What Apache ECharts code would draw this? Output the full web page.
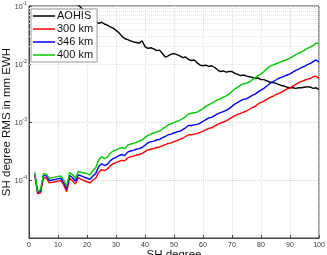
<!DOCTYPE html>
<html>
<head>
<meta charset="utf-8">
<script src="https://cdn.jsdelivr.net/npm/echarts@6/dist/echarts.min.js"></script>
<style>
  html, body { margin: 0; padding: 0; background: #fff; }
  #chart { width: 327px; height: 255px; }
</style>
</head>
<body>
<div id="chart"></div>
<script>
// SH degree (x)
const degrees = [2, 3, 4, 5, 6, 7, 8, 9, 10, 11, 12, 13, 14, 15, 16, 17, 18, 19, 20, 21,
  22, 23, 24, 25, 26, 27, 28, 29, 30, 31, 32, 33, 34, 35, 36, 37, 38, 39, 40, 41,
  42, 43, 44, 45, 46, 47, 48, 49, 50, 51, 52, 53, 54, 55, 56, 57, 58, 59, 60, 61,
  62, 63, 64, 65, 66, 67, 68, 69, 70, 71, 72, 73, 74, 75, 76, 77, 78, 79, 80, 81,
  82, 83, 84, 85, 86, 87, 88, 89, 90, 91, 92, 93, 94, 95, 96, 97, 98, 99, 100]

// degree RMS, read as log10(mm EWH) off the log axis
const aohisLog = [-0.45, -0.50, -0.55, -0.58, -0.62, -0.66, -0.70, -0.72, -0.76, -0.79,
  -0.82, -0.85, -0.88, -0.92, -0.95, -0.98, -1.03, -1.10, -1.16, -1.20,
  -1.24, -1.26, -1.30, -1.28, -1.31, -1.33, -1.36, -1.38, -1.42, -1.46,
  -1.52, -1.56, -1.58, -1.60, -1.62, -1.63, -1.64, -1.60, -1.70, -1.73,
  -1.72, -1.74, -1.77, -1.76, -1.82, -1.88, -1.86, -1.83, -1.82, -1.84,
  -1.86, -1.89, -1.88, -1.92, -1.94, -1.93, -1.98, -2.02, -2.03, -2.02,
  -2.04, -2.03, -2.06, -2.10, -2.13, -2.12, -2.14, -2.13, -2.13, -2.16,
  -2.18, -2.20, -2.19, -2.21, -2.22, -2.23, -2.25, -2.24, -2.27, -2.27,
  -2.29, -2.31, -2.32, -2.33, -2.35, -2.37, -2.38, -2.40, -2.41, -2.41,
  -2.42, -2.41, -2.41, -2.40, -2.39, -2.40, -2.42, -2.41, -2.44]

const km300Log = [-3.92, -4.24, -4.22, -3.96, -3.97, -4.05, -4.04, -4.03, -4.02, -4.01,
  -4.09, -4.20, -3.97, -4.01, -4.07, -3.96, -3.99, -4.01, -4.03, -4.05,
  -4.00, -3.97, -3.87, -3.82, -3.84, -3.81, -3.76, -3.72, -3.70, -3.68,
  -3.66, -3.67, -3.62, -3.60, -3.59, -3.57, -3.56, -3.54, -3.51, -3.48,
  -3.47, -3.46, -3.44, -3.43, -3.41, -3.39, -3.37, -3.36, -3.34, -3.32,
  -3.30, -3.28, -3.25, -3.22, -3.22, -3.21, -3.20, -3.18, -3.16, -3.13,
  -3.11, -3.10, -3.07, -3.04, -3.02, -3.00, -2.98, -2.95, -2.92, -2.89,
  -2.87, -2.85, -2.83, -2.81, -2.78, -2.75, -2.73, -2.69, -2.66, -2.64,
  -2.61, -2.58, -2.56, -2.53, -2.51, -2.49, -2.46, -2.43, -2.41, -2.38,
  -2.35, -2.32, -2.30, -2.28, -2.26, -2.25, -2.22, -2.21, -2.25]

const km346Log = [-3.90, -4.22, -4.19, -3.92, -3.93, -4.01, -4.00, -3.99, -3.98, -3.97,
  -4.05, -4.15, -3.92, -3.96, -4.02, -3.91, -3.93, -3.95, -3.97, -3.99,
  -3.93, -3.89, -3.77, -3.72, -3.75, -3.73, -3.67, -3.63, -3.61, -3.58,
  -3.56, -3.58, -3.52, -3.50, -3.49, -3.47, -3.46, -3.44, -3.40, -3.36,
  -3.34, -3.33, -3.31, -3.30, -3.27, -3.25, -3.22, -3.21, -3.19, -3.17,
  -3.16, -3.13, -3.10, -3.06, -3.06, -3.05, -3.04, -3.02, -2.99, -2.96,
  -2.93, -2.92, -2.89, -2.86, -2.84, -2.82, -2.80, -2.77, -2.73, -2.69,
  -2.66, -2.63, -2.61, -2.60, -2.57, -2.54, -2.52, -2.48, -2.45, -2.42,
  -2.38, -2.34, -2.31, -2.28, -2.25, -2.23, -2.21, -2.19, -2.17, -2.14,
  -2.11, -2.09, -2.06, -2.04, -2.01, -1.99, -1.96, -1.93, -1.97]

const km400Log = [-3.87, -4.20, -4.16, -3.89, -3.90, -3.97, -3.96, -3.95, -3.94, -3.93,
  -4.00, -4.11, -3.87, -3.91, -3.97, -3.85, -3.87, -3.88, -3.89, -3.91,
  -3.84, -3.79, -3.66, -3.60, -3.63, -3.61, -3.54, -3.50, -3.48, -3.46,
  -3.44, -3.46, -3.40, -3.38, -3.37, -3.35, -3.33, -3.31, -3.27, -3.23,
  -3.21, -3.19, -3.17, -3.16, -3.12, -3.09, -3.05, -3.03, -3.01, -2.99,
  -2.97, -2.94, -2.91, -2.86, -2.85, -2.84, -2.83, -2.80, -2.77, -2.73,
  -2.70, -2.68, -2.65, -2.62, -2.60, -2.57, -2.55, -2.52, -2.47, -2.43,
  -2.40, -2.36, -2.34, -2.33, -2.31, -2.27, -2.24, -2.20, -2.17, -2.13,
  -2.08, -2.04, -2.02, -2.00, -1.98, -1.96, -1.94, -1.92, -1.90, -1.87,
  -1.84, -1.81, -1.79, -1.76, -1.73, -1.71, -1.68, -1.64, -1.65]

const seriesNames = ['AOHIS', '300 km', '346 km', '400 km']
const seriesColors = ['#000000', '#ff0000', '#0000ff', '#00cc00']
const seriesLogs = [aohisLog, km300Log, km346Log, km400Log]

// log-axis minor grid (2..9 per decade)
const minorGrid = []
for (let e = -5; e <= -2; e++) {
  for (let m = 2; m <= 9; m++) minorGrid.push(m * Math.pow(10, e))
}

const chart = echarts.init(document.getElementById('chart'), null, { renderer: 'canvas' })

const series = seriesNames.map((name, i) => ({
  name,
  type: 'line',
  symbol: 'none',
  clip: true,
  z: 2 + i,
  lineStyle: { color: seriesColors[i], width: 1.4 },
  itemStyle: { color: seriesColors[i] },
  data: degrees.map((d, k) => [d, Math.pow(10, seriesLogs[i][k])]),
}))

series[0].markLine = {
  silent: true,
  symbol: 'none',
  z: 1,
  animation: false,
  label: { show: false },
  lineStyle: { color: '#e4e4e4', type: 'dotted', width: 1 },
  data: minorGrid.map(v => ({ yAxis: v })),
}

const font = 'Arial, "Liberation Sans", sans-serif'

chart.setOption({
  animation: false,
  textStyle: { fontFamily: font },
  grid: {
    left: 29,
    right: 8,
    top: 6,
    bottom: 17,
    containLabel: false,
    outerBoundsMode: 'none',
    show: true,
    borderColor: '#444',
    borderWidth: 1,
  },
  legend: {
    orient: 'vertical',
    left: 31,
    top: 9,
    padding: [1, 4, 1, 2],
    itemGap: 1,
    itemWidth: 22,
    itemHeight: 1.5,
    icon: 'rect',
    backgroundColor: '#fff',
    borderColor: '#999',
    borderWidth: 1,
    borderRadius: 0,
    textStyle: { fontSize: 11, lineHeight: 12, color: '#111', fontFamily: font, padding: [0, 0, 0, -3] },
    data: seriesNames,
  },
  xAxis: {
    type: 'value',
    min: 0,
    max: 100,
    interval: 10,
    name: 'SH degree',
    nameLocation: 'middle',
    nameGap: 11,
    nameMoveOverlap: false,
    nameTextStyle: { fontSize: 11.5, color: '#111' },
    axisLine: { show: true, lineStyle: { color: '#444' } },
    axisTick: { show: true, inside: true, length: 3, lineStyle: { color: '#444' } },
    axisLabel: { fontSize: 7, color: '#333', margin: 4 },
    splitLine: { show: true, lineStyle: { color: '#dcdcdc', type: 'dotted' } },
  },
  yAxis: {
    type: 'log',
    logBase: 10,
    min: 1e-5,
    max: 1e-1,
    name: 'SH degree RMS in mm EWH',
    nameLocation: 'middle',
    nameGap: 16,
    nameMoveOverlap: false,
    nameTextStyle: { fontSize: 11.5, color: '#111' },
    axisLine: { show: true, lineStyle: { color: '#444' } },
    axisTick: { show: true, inside: true, length: 3, lineStyle: { color: '#444' } },
    axisLabel: {
      showMinLabel: false,
      margin: 2,
      color: '#333',
      formatter: v => '{b|10}{s|' + Math.round(Math.log10(v)) + '}',
      rich: {
        b: { fontSize: 7, color: '#333', verticalAlign: 'bottom', lineHeight: 10 },
        s: { fontSize: 5, color: '#333', verticalAlign: 'top', lineHeight: 10 },
      },
    },
    splitLine: { show: true, lineStyle: { color: '#d8d8d8', type: 'dotted' } },
  },
  series,
})
</script>
</body>
</html>
